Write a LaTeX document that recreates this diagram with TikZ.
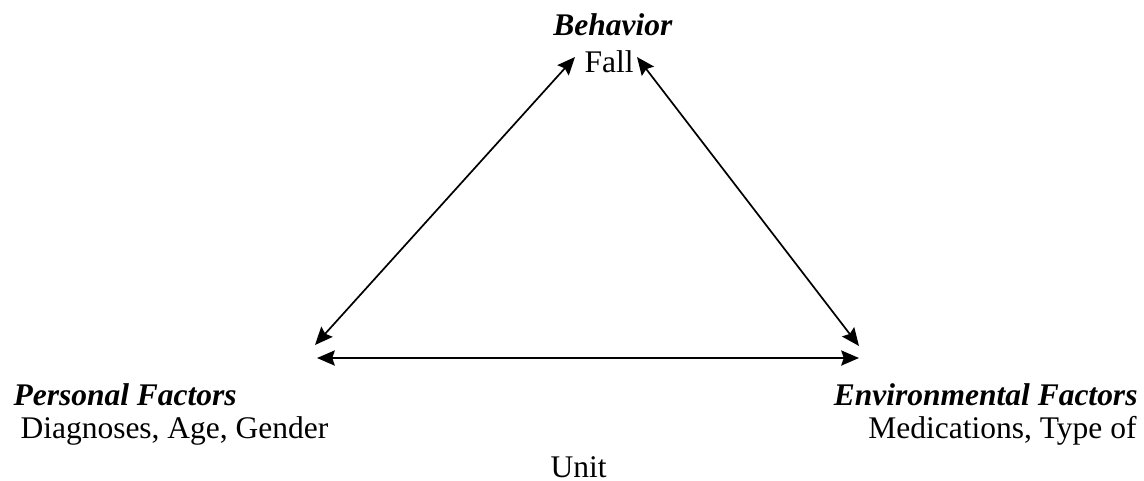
\documentclass[tikz,border=0pt]{standalone}
\usepackage{fontspec}
\setmainfont{Liberation Serif}
\usetikzlibrary{arrows.meta}

\begin{document}
\begin{tikzpicture}[x=0.381pt, y=-0.381pt, font=\fontsize{12}{14}\selectfont,
    >={Stealth[length=6.8pt, width=5.8pt, inset=1pt]}]
    \useasboundingbox (0,0) rectangle (1144,480);
    % labels
    \node[anchor=base, inner sep=0pt] (beh) at (613,35) {\textbf{\textit{Behavior}}};
    \node[anchor=base, inner sep=0pt] (fall) at (609,72) {Fall};
    \node[anchor=base west, inner sep=0pt] (pers) at (13,405) {\textbf{\textit{Personal Factors}}};
    \node[anchor=base west, inner sep=0pt] (diag) at (20,438) {Diagnoses, Age, Gender};
    \node[anchor=base east, inner sep=0pt] (env) at (1138,405) {\textbf{\textit{Environmental Factors}}};
    \node[anchor=base east, inner sep=0pt] (med) at (1137,438) {Medications, Type of};
    \node[anchor=base west, inner sep=0pt] (unit) at (550,477) {Unit};
    % arrow ends
    \coordinate (fallL) at (575,57);
    \coordinate (fallR) at (637,57);
    \coordinate (persT) at (315,345);
    \coordinate (persR) at (317,358);
    \coordinate (envT) at (859,346);
    \coordinate (envL) at (859,358);
    \draw[<->, line width=0.65pt] (persT) -- (fallL);
    \draw[<->, line width=0.65pt] (fallR) -- (envT);
    \draw[<->, line width=0.65pt] (persR) -- (envL);
  \end{tikzpicture}
\end{document}
